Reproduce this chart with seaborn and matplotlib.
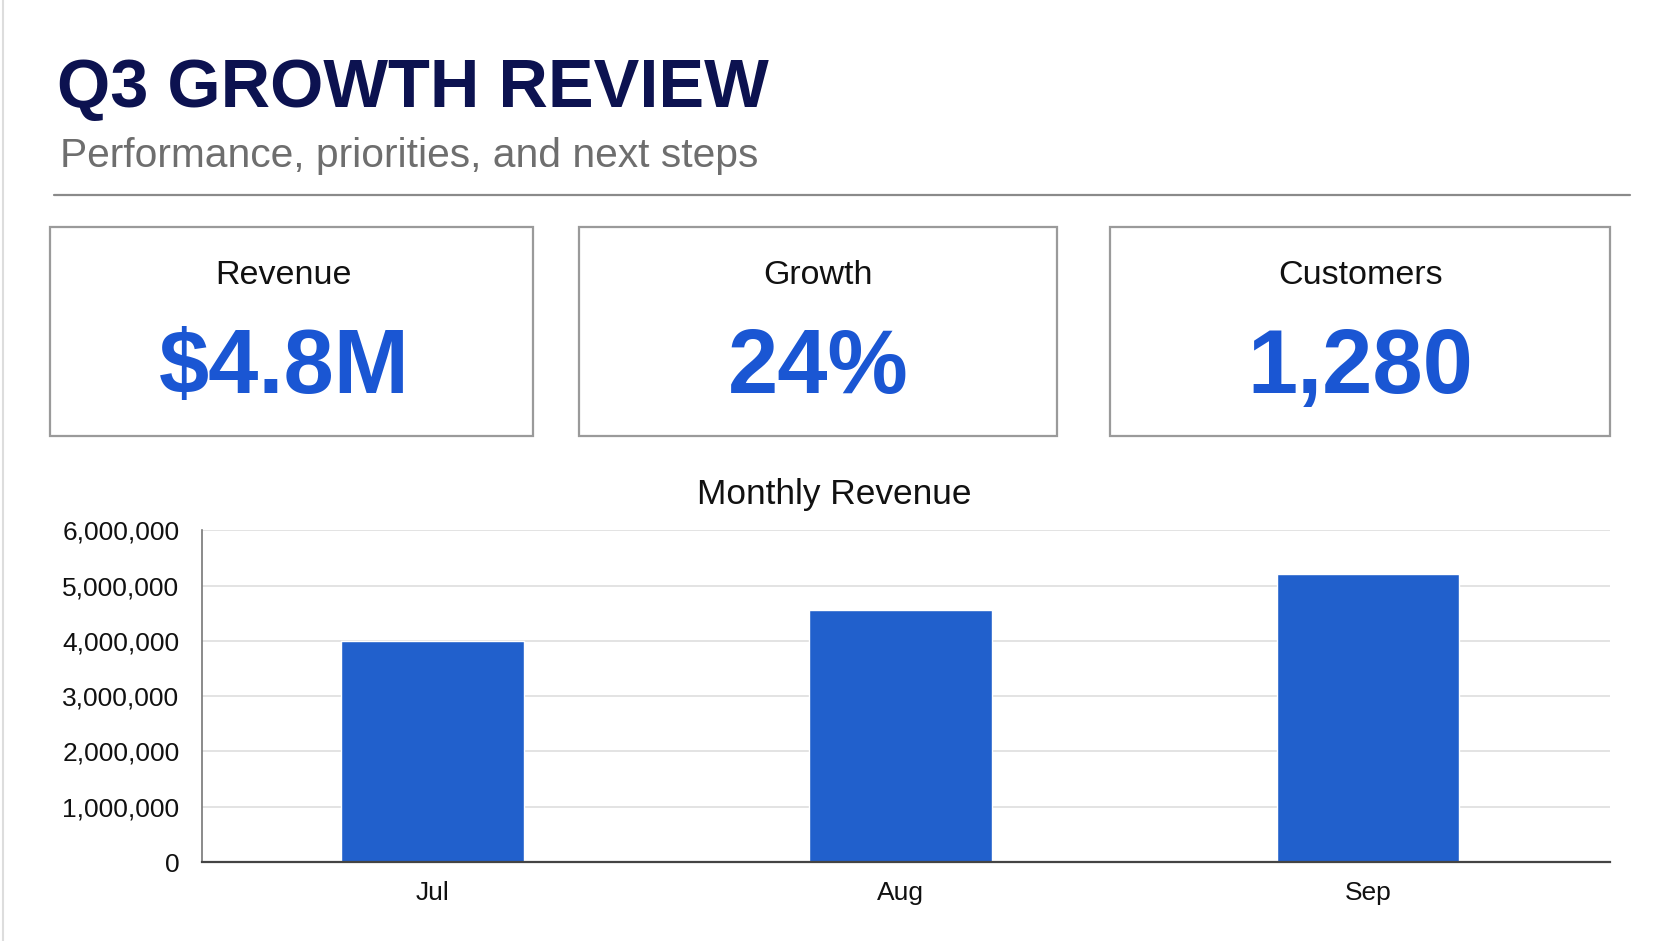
import pandas as pd
import matplotlib.pyplot as plt
import seaborn as sns
from matplotlib.patches import Rectangle
from matplotlib.ticker import FuncFormatter


# Data
months = ["Jul", "Aug", "Sep"]
revenue = [4000000, 4550000, 5200000]

kpi_labels = ["Revenue", "Growth", "Customers"]
kpi_values = ["$4.8M", "24%", "1,280"]

title = "Q3 GROWTH REVIEW"
subtitle = "Performance, priorities, and next steps"

df = pd.DataFrame({"month": months, "revenue": revenue})

sns.set_theme(style="white")
plt.rcParams["font.family"] = ["Liberation Sans", "DejaVu Sans"]

NAVY = "#0c1250"
BLUE = "#1a56d3"
BAR = "#2160cc"

fig = plt.figure(figsize=(16.72, 9.41), dpi=100)
fig.patch.set_facecolor("white")

# Header
fig.text(0.034, 0.886, title, fontsize=49.3, fontweight="bold", color=NAVY,
         va="baseline", ha="left")
fig.text(0.036, 0.822, subtitle, fontsize=29.3, color="#6e6e6e",
         va="baseline", ha="left")
fig.add_artist(plt.Line2D([0.032, 0.975], [0.7925, 0.7925],
                          color="#8a8a8a", lw=1.6, transform=fig.transFigure))
fig.add_artist(plt.Line2D([0.0015, 0.0015], [0, 1], color="#dddddd", lw=1.5,
                          transform=fig.transFigure))

# KPI cards (box edges and text centres in figure fractions)
card_x = [(0.030, 0.319), (0.3465, 0.6324), (0.6637, 0.963)]
text_x = [0.1698, 0.4895, 0.8135]
card_top, card_bottom = 1 - 0.2415, 1 - 0.4637
for (x0, x1), cx, label, value in zip(card_x, text_x, kpi_labels, kpi_values):
    fig.add_artist(Rectangle((x0, card_bottom), x1 - x0, card_top - card_bottom,
                             transform=fig.transFigure, fill=False,
                             edgecolor="#9a9a9a", lw=1.6))
    fig.text(cx, 1 - 0.2925, label, fontsize=24.5, color="#111111",
             ha="center", va="center")
    fig.text(cx, 1 - 0.393, value, fontsize=65, fontweight="bold", color=BLUE,
             ha="center", va="center")

# Monthly revenue chart
fig.text(0.499, 1 - 0.526, "Monthly Revenue", fontsize=25.4, color="#111111",
         ha="center", va="center")

ax = fig.add_axes([0.1206, 0.0839, 0.8424, 0.3526])
sns.barplot(data=df, x="month", y="revenue", color=BAR, saturation=1,
            width=0.39, ax=ax)
ax.set_xlim(-0.493, 2.517)
ax.set_ylim(0, 6000000)
ax.set_yticks(range(0, 6000001, 1000000))
ax.yaxis.set_major_formatter(FuncFormatter(lambda v, p: f"{int(v):,}"))
ax.set_xlabel("")
ax.set_ylabel("")
ax.grid(axis="y", color="#dedede", lw=1.2)
ax.set_axisbelow(True)
ax.tick_params(axis="both", length=0, labelsize=19, colors="#111111")
ax.tick_params(axis="y", pad=16)
ax.tick_params(axis="x", pad=14)
for side in ["top", "right"]:
    ax.spines[side].set_visible(False)
ax.spines["left"].set_color("#777777")
ax.spines["bottom"].set_color("#444444")
ax.spines["left"].set_linewidth(1.2)
ax.spines["bottom"].set_linewidth(1.6)

fig.savefig("out.png", dpi=100, facecolor="white")
